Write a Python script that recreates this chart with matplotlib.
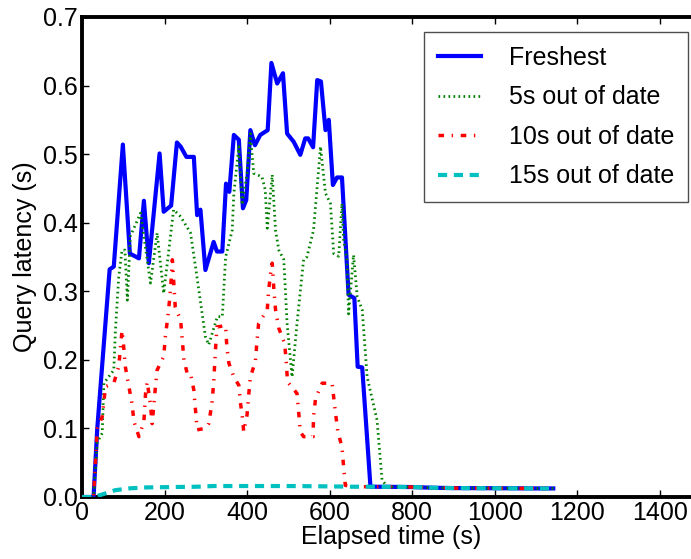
import matplotlib
matplotlib.use("Agg")
import matplotlib.pyplot as plt
from matplotlib import font_manager

fams = {f.name for f in font_manager.fontManager.ttflist}
FONT = 'Liberation Sans Narrow' if 'Liberation Sans Narrow' in fams else 'Liberation Sans'
plt.rcParams['font.family'] = [FONT, 'DejaVu Sans']

# ---- data ----
tail_t = [700, 750, 800, 850, 900, 1000, 1100, 1142]
tail_v = [0.015, 0.0148, 0.0145, 0.0135, 0.013, 0.0128, 0.0125, 0.0125]

fresh_t = [0, 28, 37, 67, 77, 99, 116, 138, 150, 162, 188, 198, 216, 230, 239, 253, 271, 279,
           287, 299, 319, 327, 340, 349, 357, 368, 380, 390, 398, 408, 419, 432, 450, 459, 473,
           487, 497, 513, 529, 541, 548, 560, 570, 579, 590, 598, 608, 618, 630, 646, 660, 668,
           679, 699] + tail_t[1:]
fresh_v = [0.0, 0.0, 0.10, 0.332, 0.336, 0.514, 0.355, 0.348, 0.432, 0.341, 0.501, 0.416,
           0.425, 0.517, 0.511, 0.496, 0.496, 0.411, 0.419, 0.331, 0.372, 0.358, 0.358, 0.457,
           0.445, 0.528, 0.521, 0.421, 0.433, 0.535, 0.513, 0.528, 0.535, 0.633, 0.603, 0.618,
           0.530, 0.518, 0.499, 0.523, 0.523, 0.510, 0.608, 0.606, 0.535, 0.550, 0.455, 0.466,
           0.466, 0.295, 0.290, 0.190, 0.189, 0.015] + tail_v[1:]

s5_t = [0, 28, 37, 49, 53, 77, 81, 89, 97, 104, 110, 117, 142, 166, 182, 198, 222, 239,
        263, 275, 283, 299, 307, 328, 340, 348, 364, 368, 380, 388, 400, 408, 416, 436,
        444, 449, 461, 469, 477, 489, 497, 509, 521, 537, 545, 561, 578, 590, 602, 610,
        622, 630, 634, 642, 646, 658, 667, 679, 691, 715, 727, 740] + tail_t[2:]
s5_v = [0.0, 0.0, 0.08, 0.093, 0.166, 0.185, 0.243, 0.321, 0.36, 0.36, 0.287, 0.38, 0.414,
        0.312, 0.385, 0.297, 0.419, 0.409, 0.385, 0.336, 0.302, 0.234, 0.222, 0.263, 0.263,
        0.35, 0.389, 0.443, 0.511, 0.426, 0.472, 0.530, 0.472, 0.467, 0.448, 0.392, 0.47,
        0.389, 0.36, 0.346, 0.253, 0.175, 0.253, 0.346, 0.35, 0.389, 0.511, 0.443, 0.428,
        0.355, 0.351, 0.428, 0.375, 0.346, 0.267, 0.353, 0.292, 0.273, 0.175, 0.112, 0.025,
        0.0148] + tail_v[2:]

s10_t = [0, 28, 37, 49, 57, 77, 89, 97, 101, 105, 113, 121, 126, 138, 150, 154, 158, 166,
         170, 178, 182, 198, 202, 208, 213, 216, 219, 226, 239, 247, 255, 263, 271, 275,
         279, 299, 307, 315, 319, 323, 327, 348, 351, 356, 368, 380, 384, 388, 392, 400,
         404, 408, 420, 424, 428, 449, 452, 457, 461, 465, 469, 477, 491, 495, 498, 521,
         525, 529, 537, 560, 561, 566, 582, 606, 614, 620, 630, 634, 638, 660] + tail_t
s10_v = [0.0, 0.0, 0.10, 0.117, 0.161, 0.166, 0.19, 0.243, 0.219, 0.19, 0.163, 0.137, 0.11,
         0.088, 0.11, 0.151, 0.168, 0.134, 0.107, 0.161, 0.185, 0.205, 0.234, 0.263, 0.292,
         0.316, 0.346, 0.277, 0.258, 0.2, 0.18, 0.18, 0.156, 0.127, 0.098, 0.1, 0.107, 0.137,
         0.166, 0.21, 0.248, 0.25, 0.219, 0.195, 0.175, 0.163, 0.137, 0.12, 0.095, 0.12,
         0.149, 0.175, 0.197, 0.227, 0.253, 0.273, 0.3, 0.326, 0.341, 0.302, 0.273, 0.246,
         0.224, 0.197, 0.168, 0.151, 0.124, 0.095, 0.088, 0.088, 0.117, 0.144, 0.166, 0.166,
         0.124, 0.095, 0.073, 0.044, 0.017, 0.015] + tail_v

s15_t = [0, 30, 81, 117, 158, 279, 319, 400, 500, 600, 650] + tail_t
s15_v = [0.0, 0.0, 0.010, 0.0127, 0.014, 0.015, 0.016, 0.016, 0.016, 0.0155, 0.015] + tail_v

labels = ['Freshest', '5s out of date', '10s out of date', '15s out of date']
xticks = [0, 200, 400, 600, 800, 1000, 1200, 1400]
yticks = [0.0, 0.1, 0.2, 0.3, 0.4, 0.5, 0.6, 0.7]

# ---- figure ----
fig = plt.figure(figsize=(6.91, 5.59), dpi=100)
ax = fig.add_axes([82 / 691, 1 - 497 / 559, (701 - 82) / 691, (497 - 17) / 559])

ax.plot(fresh_t, fresh_v, color='#0000ff', lw=3.0, ls='-', label=labels[0], zorder=3)
ax.plot(s5_t, s5_v, color='#008000', lw=2.0, ls=(0, (0.6, 1.2)), label=labels[1], zorder=4)
ax.plot(s10_t, s10_v, color='#ff0000', lw=2.5, ls=(0, (1.6, 2.2, 0.4, 2.2)), label=labels[2], zorder=5)
ax.plot(s15_t, s15_v, color='#00c0c0', lw=3.0, ls=(0, (2.2, 1.6)), label=labels[3], zorder=6)

ax.set_xlim(0, 1500)
ax.set_ylim(0, 0.7)
ax.set_xticks(xticks)
ax.set_xticklabels([str(v) for v in xticks])
ax.set_yticks(yticks)
ax.set_yticklabels(['%.1f' % v for v in yticks])
ax.tick_params(direction='in', top=True, right=True, length=5, width=1,
               labelsize=18, pad=3)
for sp in ax.spines.values():
    sp.set_linewidth(2.8)

ax.set_xlabel('Elapsed time (s)', fontsize=18, labelpad=0)
ax.set_ylabel('Query latency (s)', fontsize=18, labelpad=4)

leg = ax.legend(loc='upper right', bbox_to_anchor=(688 / 691, 1 - 32 / 559),
                bbox_transform=fig.transFigure, fontsize=18, frameon=True,
                fancybox=False, edgecolor='#222222', borderpad=0.55, labelspacing=0.62,
                handlelength=1.75, handletextpad=1.1, borderaxespad=0)
leg.get_frame().set_linewidth(1.0)

fig.savefig('out.png', dpi=100)
